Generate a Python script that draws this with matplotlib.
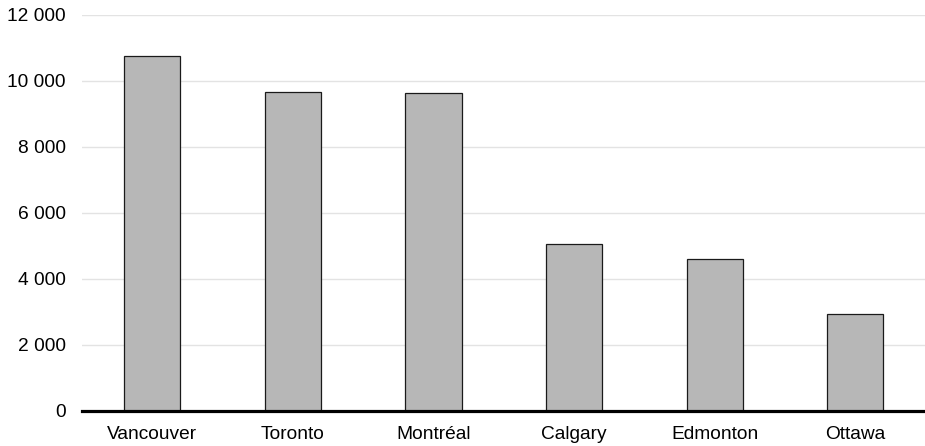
import matplotlib
matplotlib.use("Agg")
import matplotlib.pyplot as plt
from matplotlib.ticker import FuncFormatter

# data
cities = ["Vancouver", "Toronto", "Montréal", "Calgary", "Edmonton", "Ottawa"]
values = [10760, 9670, 9630, 5070, 4615, 2940]
y_ticks = [0, 2000, 4000, 6000, 8000, 10000, 12000]

plt.rcParams['font.family'] = ['Liberation Sans', 'DejaVu Sans']

fig = plt.figure(figsize=(9.25, 4.46), dpi=100)
ax = fig.add_axes([0.0886, 0.0785, 0.912, 0.888])

x = range(len(cities))
ax.bar(x, values, width=0.4, color="#b7b7b7", edgecolor="#1a1a1a", linewidth=0.9, zorder=3)

ax.set_xlim(-0.5, len(cities) - 0.5)
ax.set_ylim(0, 12000)
ax.set_yticks(y_ticks)
ax.yaxis.set_major_formatter(FuncFormatter(lambda v, p: f"{int(v):,}".replace(",", " ")))
ax.set_xticks(list(x))
ax.set_xticklabels(cities)

ax.grid(axis="y", color="#e3e3e3", linewidth=1.0, zorder=0)
for s in ["top", "right", "left"]:
    ax.spines[s].set_visible(False)
ax.spines["bottom"].set_linewidth(2.3)
ax.spines["bottom"].set_color("black")
ax.spines["bottom"].set_zorder(4)

ax.tick_params(axis="y", length=0, pad=11.5, labelsize=13.8)
ax.tick_params(axis="x", length=0, pad=11, labelsize=13.8)

fig.savefig("out.png", dpi=100)
